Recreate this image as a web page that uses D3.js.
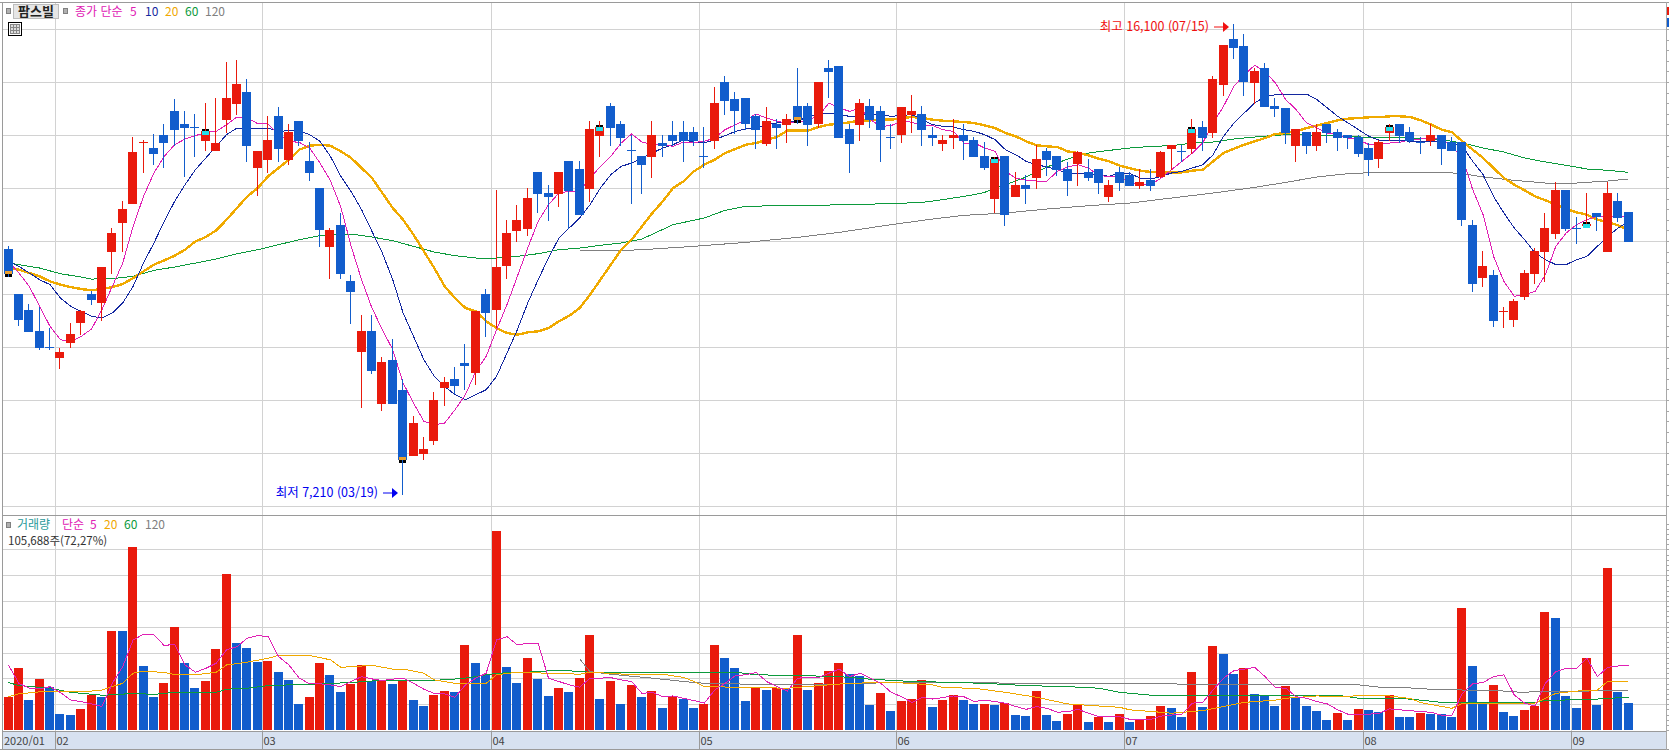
<!DOCTYPE html>
<html lang="ko"><head><meta charset="utf-8">
<style>html,body{margin:0;padding:0;background:#fff;overflow:hidden}svg{display:block}text{font-family:"Noto Sans CJK KR","Noto Sans",sans-serif;font-size:12px}</style>
<script src="https://cdn.jsdelivr.net/npm/d3@7"></script></head><body><svg id="c" width="1669" height="750"></svg>
<script>
const stockName="팜스빌";
const monthStarts=[5,25,47,67,86,108,131,151];
const monthLabels=["02","03","04","05","06","07","08","09"];
const firstMonthLabel="2020/01";
const opens=[11850,11000,10700,10310,10000,9800,10080,10440,11000,10840,
11800,12350,12690,13850,13760,14000,14460,14210,14150,13890,
13690,14290,14590,14820,13380,13530,14360,13530,14270,13510,
13000,11890,12310,11250,9910,10310,8930,9760,9190,7950,
7990,8230,9230,9400,9700,9500,11000,10690,11530,12190,
12230,13310,12910,12890,13510,13360,12990,13990,14550,14210,
13710,13610,13590,13850,14000,14060,14060,13610,13890,15000,
14670,14700,14360,13840,14210,14200,14550,14550,14200,15270,
15310,14120,14200,14550,14460,13970,13990,14380,14400,14000,
13840,13950,14000,13910,13610,12800,13610,12840,13060,13190,
13700,13610,13360,13440,13310,13360,12840,13310,13250,13040,
13160,13190,13740,13700,13740,14160,14040,14950,15820,15670,
14990,15270,14550,14510,13800,14060,13800,14210,14060,14000,
13970,13760,13530,14040,14210,14060,13860,13890,14000,13860,
13860,12310,11290,11360,10660,10500,10950,11380,11800,12140,
12970,12250,12290,12520,11800,12760,12550];
const highs=[11910,11000,10820,10760,10360,9980,10460,10700,11060,11510,
12250,12760,13970,13910,14010,14210,14670,14460,14400,14610,
14700,15370,15420,15060,13700,14360,14520,14210,14270,13860,
13000,12250,12520,11360,10610,10610,9820,10160,9400,8690,
8310,9160,9440,9630,10060,10670,11100,12970,12400,12670,
13000,13310,13060,13310,13510,13510,14270,14270,14610,14270,
14000,13610,14270,14000,14270,14270,14160,14160,14910,15120,
14820,14700,14400,14520,14310,14400,15270,14610,15000,15420,
15310,14210,14670,14670,14550,14210,14520,14760,14550,14160,
14000,14310,14210,13970,13860,13590,13610,13310,13250,13820,
13760,13610,13500,13700,13550,13360,13160,13400,13310,13360,
13360,13700,13820,13820,14310,14270,15120,15700,16100,15910,
15270,15360,14700,14510,14120,14060,14210,14210,14120,14000,
14000,13840,13910,14210,14210,14160,13970,14210,14000,13970,
13860,12400,11820,11460,10760,10910,11460,11860,12520,13120,
12970,12460,12910,12520,13120,12910,12550];
const lows=[11330,10390,10290,9940,9950,9590,9990,10230,10800,10500,
11380,11800,12690,13290,13440,13380,13800,13200,13590,13690,
13690,14040,14380,13500,12840,13290,13500,13440,13800,13140,
11890,11290,11290,10440,8840,9500,8800,8930,7210,7950,
7860,8160,8890,9120,9190,9290,10190,10350,11290,11990,
12100,12530,12380,12650,12230,12500,12740,13590,13800,13800,
12690,12890,13190,13590,13800,13500,13800,13380,13740,14380,
14020,14100,13740,13800,13740,13840,14210,13800,14140,14690,
13950,13290,13890,14140,13500,13740,13840,14040,13800,13800,
13690,13740,13530,13590,13340,12530,12290,12840,12690,12990,
13230,13230,12840,13040,13140,12890,12740,12950,13040,12990,
12950,13190,13340,13500,13650,13690,13950,14740,15440,14740,
14590,14530,14340,13830,13500,13650,13690,13840,13690,13740,
13590,13230,13380,13890,13840,13840,13650,13800,13440,13690,
12290,11040,11140,10380,10350,10380,10890,11190,11230,12040,
12190,11950,12250,12190,11800,12350,11990];
const closes=[11380,10500,10290,9990,9990,9910,10250,10670,10890,11510,
12160,12610,13670,13860,13650,13840,14100,14140,14140,14080,
13850,14700,14970,13800,13700,13910,13740,14060,13890,13290,
12200,12210,11380,11040,10310,9550,9720,8930,7870,8570,
8080,9000,9340,9270,9650,10670,10650,11510,12160,12400,
12820,12890,12840,13310,12950,12500,14120,14160,14140,13950,
13700,13440,14000,13800,13890,13890,13890,13600,14610,14650,
14440,14200,14100,14270,14140,14310,14290,14200,15000,15190,
13950,13840,14610,14290,14100,13960,14520,14460,14100,13950,
13910,14000,13890,13590,13380,13550,12500,13060,12990,13550,
13530,13350,13140,13670,13190,13100,13060,13100,13040,13120,
13040,13670,13820,13690,14120,13950,15060,15700,15650,14990,
15210,14530,14490,14030,14120,13800,14060,14040,13950,13950,
13650,13530,13860,14160,13990,13890,13850,14000,13740,13690,
12380,11190,11520,10500,10670,10860,11400,11820,12250,12970,
12230,12240,12330,12440,12910,12440,11990];
const ma5=[11616,11396,11144,10767,10389,10138,10106,10201,10339,10704,
11144,11584,12276,12842,13283,13597,13817,13924,13987,14050,
14069,14195,14339,14320,14214,14207,14019,13880,13861,13754,
13471,13138,12641,11899,11270,10735,10327,9949,9320,8943,
8597,8534,8565,8817,9100,9540,9823,10327,10798,11333,
11868,12371,12685,12905,12937,12937,13188,13408,13597,13849,
14019,13868,13817,13817,13786,13868,13861,13880,13943,14100,
14195,14289,14396,14320,14258,14226,14239,14289,14352,14604,
14509,14446,14509,14289,14163,14176,14270,14239,14176,14176,
14100,14069,13849,13849,13754,13691,13314,13188,13144,13131,
13131,13314,13396,13440,13377,13232,13220,13207,13094,13075,
13062,13188,13345,13503,13660,13849,14226,14540,14918,15138,
15314,15201,14980,14667,14478,14227,14132,14038,14007,13944,
13912,13818,13818,13849,13862,13912,13925,13963,13912,13786,
13566,12969,12497,11711,11239,10956,10987,11050,11365,11899,
12151,12308,12403,12466,12453,12453,12466];
const ma10=[11616,11522,11396,11270,11176,10924,10767,10672,10578,10547,
10641,10830,11144,11584,11962,12371,12748,13063,13346,13566,
13786,14006,14132,14132,14132,14132,14069,14082,14082,14006,
13880,13597,13220,12931,12591,12182,11773,11270,10641,10201,
9760,9446,9257,9100,9006,9100,9194,9446,9886,10327,
10830,11270,11679,12056,12245,12434,12685,13000,13251,13408,
13471,13566,13660,13754,13817,13912,13861,13849,13912,13987,
14069,14113,14132,14195,14226,14239,14258,14352,14383,14415,
14383,14352,14365,14402,14383,14352,14371,14383,14289,14195,
14163,14151,14100,14069,14006,13912,13723,13628,13503,13440,
13396,13345,13283,13283,13251,13251,13220,13283,13270,13188,
13169,13220,13283,13314,13377,13440,13628,13974,14226,14415,
14603,14729,14760,14773,14773,14773,14667,14510,14352,14227,
14101,13975,13900,13900,13900,13881,13881,13881,13881,13849,
13786,13503,13252,12843,12528,12245,12025,11774,11648,11554,
11554,11648,11711,11899,12088,12245,12371];
const ma20=[11509,11459,11396,11333,11238,11176,11131,11094,11069,11094,
11131,11188,11301,11427,11553,11635,11723,11836,11993,12075,
12201,12402,12622,12842,12999,13220,13377,13534,13723,13798,
13817,13798,13692,13566,13377,13189,12906,12622,12402,12119,
11805,11490,11144,10924,10735,10673,10484,10358,10264,10232,
10276,10295,10358,10484,10591,10735,10987,11270,11553,11836,
12025,12276,12528,12748,12999,13125,13314,13440,13534,13660,
13736,13817,13849,13912,13962,14082,14082,14082,14151,14195,
14214,14239,14277,14277,14289,14289,14320,14339,14320,14289,
14270,14258,14245,14226,14182,14132,14037,13974,13880,13805,
13786,13773,13691,13660,13616,13553,13503,13421,13371,13327,
13302,13295,13295,13295,13327,13345,13503,13660,13742,13817,
13880,13943,14018,14038,14069,14132,14176,14227,14277,14308,
14321,14334,14334,14353,14353,14340,14277,14195,14101,14051,
13881,13724,13566,13378,13189,13063,12956,12843,12767,12686,
12604,12541,12497,12403,12359,12296,12208];
const ma60Index=[0,3,5,7,8,10,12,14,16,18,20,22,24,26,28,30,31,33,35,37,39,41,43,45,47,49,51,53,55,57,59,61,64,67,69,71,74,77,80,85,88,90,93,94,96,98,100,102,104,106,108,110,112,114,116,118,120,122,123,126,129,132,135,138,140,142,144,146,148,150,152,154,156];
const ma60Values=[11584,11490,11383,11320,11282,11289,11333,11446,11509,11584,11660,11760,11836,11930,12025,12100,12113,12132,12075,12006,11899,11792,11723,11679,11679,11710,11761,11836,11867,11918,11962,12037,12308,12434,12578,12654,12666,12666,12685,12704,12729,12780,12874,12918,13062,13207,13396,13547,13660,13710,13754,13786,13798,13849,13868,13924,13962,13993,14007,13994,13975,13944,13944,13912,13849,13755,13679,13566,13491,13428,13359,13334,13296];
const ma120Index=[55,59,62,66,71,76,80,85,89,92,96,100,104,108,112,116,120,123,126,129,132,135,138,140,142,145,148,151,154,156];
const ma120Values=[11817,11817,11848,11899,11974,12069,12163,12308,12415,12484,12528,12603,12666,12716,12811,12905,13012,13106,13208,13271,13296,13296,13296,13271,13208,13145,13094,13094,13132,13170];
const volumeK=[128,241,116,198,167,62,58,82,136,128,
384,383,710,248,128,182,400,260,163,190,
314,606,338,318,264,268,225,194,101,128,
260,214,148,179,252,190,194,179,194,116,
93,136,151,148,330,260,214,773,245,182,
280,198,132,163,148,202,369,120,190,101,
175,128,151,85,132,120,85,101,330,280,
241,113,167,155,163,159,369,155,182,229,
260,217,210,97,144,74,113,120,194,89,
116,136,116,101,102,97,105,58,54,151,
58,35,62,97,31,50,31,62,31,39,
54,93,85,50,225,89,326,295,217,241,
140,132,93,171,124,93,74,39,66,39,
82,78,70,136,50,49,66,63,62,50,
474,248,101,175,70,54,78,93,458,435,
132,85,280,97,629,148,106];
const vma5=[252,181,162,159,168,145,116,110,101,91,
181,246,349,371,369,327,333,252,224,239,
259,311,323,356,366,362,285,252,201,179,
179,175,168,188,207,198,192,197,201,181,
158,142,140,127,175,201,220,349,362,330,
336,336,201,188,175,166,201,201,203,194,
188,142,146,129,132,123,114,104,155,181,
211,214,223,188,168,151,201,203,203,220,
236,207,220,201,181,146,129,107,126,120,
126,132,129,110,116,110,104,91,80,91,
84,69,71,80,65,52,52,52,41,41,
41,54,58,61,104,107,155,201,230,236,
243,207,164,162,129,123,110,101,78,61,
61,61,65,82,78,75,71,69,57,57,
142,179,184,207,214,136,104,93,181,226,
239,239,278,207,243,248,251];
const vma20Index=[0,1,3,5,8,9,11,12,13,15,16,18,20,21,23,25,26,29,31,32,34,35,37,38,40,41,43,46,47,49,52,53,55,56,59,63,65,66,67,70,75,79,81,85,89,90,93,96,99,102,105,107,108,110,112,115,117,119,122,123,126,129,130,133,135,136,139,140,142,147,148,149,152,153,154,156];
const vma20Values=[129,140,148,151,151,155,181,220,228,223,215,214,224,252,263,278,289,289,272,243,248,251,236,236,220,194,181,181,214,224,220,220,216,224,217,216,204,188,168,166,162,175,181,185,175,164,162,146,127,101,93,88,78,72,65,75,91,107,116,123,132,129,135,132,122,106,84,104,104,104,123,142,155,155,188,189];
const vma60Index=[0,1,4,6,9,10,12,14,16,20,21,23,25,30,33,35,42,44,47,51,53,56,63,65,70,72,76,80,83,86,91,94,98,102,105,107,110,112,115,119,128,130,135,138,147,148,153,156];
const vma60Values=[184,172,162,146,135,136,142,138,146,146,158,162,172,179,184,190,194,201,220,226,232,224,224,221,224,214,211,207,197,190,184,181,172,168,162,146,135,135,132,135,135,123,120,107,106,114,120,127];
const vma120Index=[55,56,58,62,65,67,72,79,86,91,98,105,116,130,132,135,137,144,146,147,152,156];
const vma120Values=[276,226,216,201,188,181,177,177,185,184,181,181,177,175,166,163,158,151,145,151,151,154];
const orangeMarkers=[0,38,76];
const cyanMarkers=[19,57,95,114,133,152];
const lowNote="최저 7,210 (03/19)",lowIndex=38,lowValue=7210;
const highNote="최고 16,100 (07/15)",highIndex=118,highValue=16100;
const volumeNote="105,688주(72,27%)";
const priceLegend=[["종가 단순",75,"#e020b4"],["5",130,"#e020b4"],["10",145,"#1428a0"],["20",165,"#f0a800"],["60",185,"#0c9a3c"],["120",205,"#808080"]];
const volumeLegend=[["거래량",17,"#2a9a9a"],["단순",62,"#e020b4"],["5",90,"#e020b4"],["20",104,"#f0a800"],["60",124,"#0c9a3c"],["120",145,"#808080"]];

const n=closes.length;
const RED="#e91a0c",BLUE="#125dcc",GRID="#d2d2d2",FRAME="#9a9a9a";
const x=d3.scaleLinear().domain([0,n-1]).range([8,1628]);
const yP=d3.scaleLinear().domain([7000,16000]).range([506,29]);
const yV=d3.scaleLinear().domain([0,700]).range([730,549.4]);
const sx=i=>Math.floor(x(i));
const monthX=i=>Math.round(x(i-0.5))+0.5;
const svg=d3.select("#c");
const rightEdge=1666;

// grids
const g=svg.append("g").attr("shape-rendering","crispEdges");
g.selectAll(".hp").data(d3.range(7000,16001,1000)).join("line")
 .attr("x1",3).attr("x2",rightEdge).attr("y1",d=>Math.round(yP(d))+.5).attr("y2",d=>Math.round(yP(d))+.5).attr("stroke",GRID);
g.selectAll(".hv").data(d3.range(100,701,100)).join("line")
 .attr("x1",3).attr("x2",rightEdge).attr("y1",d=>Math.round(yV(d))+.5).attr("y2",d=>Math.round(yV(d))+.5).attr("stroke",GRID);
g.selectAll(".m").data(monthStarts).join("line")
 .attr("x1",monthX).attr("x2",monthX).attr("y1",3).attr("y2",731).attr("stroke",GRID);

// moving average lines under candles
const priceLine=d3.line().x(d=>x(d[0])+.5).y(d=>yP(d[1]));
const volLine=d3.line().x(d=>x(d[0])+.5).y(d=>yV(d[1]));
const pair=(a,b)=>a.map((v,i)=>[v,b[i]]);
const dense=a=>a.map((v,i)=>[i,v]);
const pl=svg.append("g").attr("fill","none").attr("shape-rendering","crispEdges");
[[pair(ma120Index,ma120Values),"#808080",1],[pair(ma60Index,ma60Values),"#0c9a3c",1],[dense(ma20),"#f0aa00",2.4],[dense(ma10),"#1428a0",1],[dense(ma5),"#e020b4",1]]
 .forEach(s=>pl.append("path").attr("d",priceLine(s[0])).attr("stroke",s[1]).attr("stroke-width",s[2]));

// candles
const cg=svg.append("g").attr("shape-rendering","crispEdges");
const candle=d3.range(n);
const colr=i=>closes[i]>=opens[i]?RED:BLUE;
cg.selectAll(".w").data(candle).join("line")
 .attr("x1",i=>sx(i)+.5).attr("x2",i=>sx(i)+.5).attr("y1",i=>yP(highs[i])).attr("y2",i=>yP(lows[i])).attr("stroke",colr);
cg.selectAll(".b").data(candle).join("rect")
 .attr("x",i=>sx(i)-4).attr("width",9)
 .attr("y",i=>Math.round(yP(Math.max(opens[i],closes[i]))))
 .attr("height",i=>Math.max(1,Math.round(Math.abs(yP(opens[i])-yP(closes[i])))))
 .attr("fill",colr);

// signal markers
const mg=svg.append("g").attr("shape-rendering","crispEdges");
orangeMarkers.forEach(i=>{const X=sx(i),Y=Math.round(yP(closes[i]));
 mg.append("rect").attr("x",X-3).attr("y",Y-3).attr("width",7).attr("height",3).attr("fill","#eaa030");
 mg.append("rect").attr("x",X-3).attr("y",Y).attr("width",3).attr("height",3).attr("fill","#000");
 mg.append("rect").attr("x",X+1).attr("y",Y).attr("width",3).attr("height",3).attr("fill","#000");});
cyanMarkers.forEach(i=>{const X=sx(i),Y=Math.round(yP(closes[i]));
 mg.append("rect").attr("x",X-3).attr("y",Y).attr("width",7).attr("height",4).attr("fill","#22dfe8");
 mg.append("rect").attr("x",X-3).attr("y",Y-2).attr("width",3).attr("height",2).attr("fill","#000");
 mg.append("rect").attr("x",X+1).attr("y",Y-2).attr("width",3).attr("height",2).attr("fill","#000");});

// volume bars and lines
const vg=svg.append("g").attr("shape-rendering","crispEdges");
vg.selectAll("rect").data(volumeK).join("rect")
 .attr("x",(d,i)=>sx(i)-4).attr("width",9)
 .attr("y",d=>Math.round(yV(d))).attr("height",d=>730-Math.round(yV(d)))
 .attr("fill",(d,i)=>i===0||d>=volumeK[i-1]?RED:BLUE);
const vl=svg.append("g").attr("fill","none").attr("shape-rendering","crispEdges");
[[pair(vma120Index,vma120Values),"#808080"],[pair(vma60Index,vma60Values),"#0c9a3c"],[pair(vma20Index,vma20Values),"#f0a800"],[dense(vma5),"#e020b4"]]
 .forEach(s=>vl.append("path").attr("d",volLine(s[0])).attr("stroke",s[1]).attr("stroke-width",1));

// frames and date strip
const fg=svg.append("g").attr("shape-rendering","crispEdges");
fg.append("rect").attr("x",2).attr("y",732).attr("width",1664).attr("height",17).attr("fill","#d7e1f0");
[[0,2,1669,2],[2,515,rightEdge,515],[2,731,rightEdge,731],[0,749,1669,749]].forEach(l=>
 fg.append("line").attr("x1",l[0]).attr("x2",l[2]).attr("y1",l[1]+.5).attr("y2",l[3]+.5).attr("stroke",FRAME));
fg.append("line").attr("x1",2.5).attr("x2",2.5).attr("y1",2).attr("y2",750).attr("stroke",FRAME).attr("stroke-width",1);
fg.append("line").attr("x1",rightEdge+.5).attr("x2",rightEdge+.5).attr("y1",2).attr("y2",750).attr("stroke","#a8a8a8");
fg.selectAll(".mt").data(monthStarts).join("line").attr("x1",monthX).attr("x2",monthX).attr("y1",732).attr("y2",749).attr("stroke",FRAME);
fg.selectAll(".tp").data(d3.range(7000,16401,200)).join("line").attr("x1",rightEdge).attr("x2",1669)
 .attr("y1",d=>Math.round(yP(d))+.5).attr("y2",d=>Math.round(yP(d))+.5).attr("stroke","#a8a8a8");
fg.selectAll(".tv").data(d3.range(0,801,20)).join("line").attr("x1",rightEdge).attr("x2",1669)
 .attr("y1",d=>Math.round(yV(d))+.5).attr("y2",d=>Math.round(yV(d))+.5).attr("stroke","#a8a8a8");
fg.append("rect").attr("x",1667).attr("y",7).attr("width",2).attr("height",8).attr("fill",RED);
fg.append("rect").attr("x",1667).attr("y",18).attr("width",2).attr("height",9).attr("fill",BLUE);

// labels
const tg=svg.append("g");
const label=(t,X,Y,c,extra)=>{const e=tg.append("text").attr("x",X).attr("y",Y).attr("fill",c).text(t);if(extra)extra(e);return e;};
const small=e=>e.style("font-size","11px");
label(firstMonthLabel,4,745,"#444",small);
monthStarts.forEach((m,i)=>label(monthLabels[i],monthX(m)+1,745,"#444",small));
const sq=(X,Y)=>fg.append("rect").attr("x",X+.5).attr("y",Y+.5).attr("width",4).attr("height",5).attr("fill","#b0b0b0").attr("stroke","#808080");
sq(6,8);sq(63,8);sq(6,522);
fg.append("rect").attr("x",13.5).attr("y",4.5).attr("width",45).attr("height",14).attr("fill","#e6e6e6").attr("stroke","#bdbdbd");
label(stockName,36,16,"#222",e=>e.attr("text-anchor","middle").attr("font-weight","700").style("font-size","13px"));
priceLegend.forEach(d=>label(d[0],d[1],16,d[2]));
volumeLegend.forEach(d=>label(d[0],d[1],529,d[2]));
label(volumeNote,8,545,"#333",e=>e.style("font-size","11.5px"));
// table icon
const ic=fg.append("g");
ic.append("rect").attr("x",8.5).attr("y",22.5).attr("width",13).attr("height",13).attr("fill","#fff").attr("stroke","#000");
ic.append("rect").attr("x",10.5).attr("y",24.5).attr("width",9).attr("height",9).attr("fill","#ddd").attr("stroke","#888");
[13.5,16.5].forEach(v=>ic.append("line").attr("x1",v).attr("x2",v).attr("y1",24).attr("y2",34).attr("stroke","#888"));
[27.5,30.5].forEach(v=>ic.append("line").attr("x1",10).attr("x2",20).attr("y1",v).attr("y2",v).attr("stroke","#888"));

// high / low annotations
const arrow=(X,Y,c)=>{
 svg.append("line").attr("x1",X-15).attr("x2",X-4).attr("y1",Y).attr("y2",Y).attr("stroke",c).attr("stroke-width",1);
 svg.append("path").attr("d",d3.line()([[X-6,Y-5],[X,Y],[X-6,Y+5]])+"Z").attr("fill",c);};
const note=e=>e.attr("text-anchor","end").style("font-size","12.5px");
const lx=sx(lowIndex)-4, ly=Math.round(yP(lowValue))-2;
arrow(lx,ly,"#0000f0");
label(lowNote,lx-20,ly+4,"#0000f0",note);
const hx=sx(highIndex)-4, hy=Math.round(yP(highValue))+3;
arrow(hx,hy,"#f01010");
label(highNote,hx-20,hy+4,"#f01010",note);
if([opens,highs,lows,ma5,ma10,ma20,volumeK,vma5].some(a=>a.length!==n))console.error("length mismatch");
</script></body></html>
